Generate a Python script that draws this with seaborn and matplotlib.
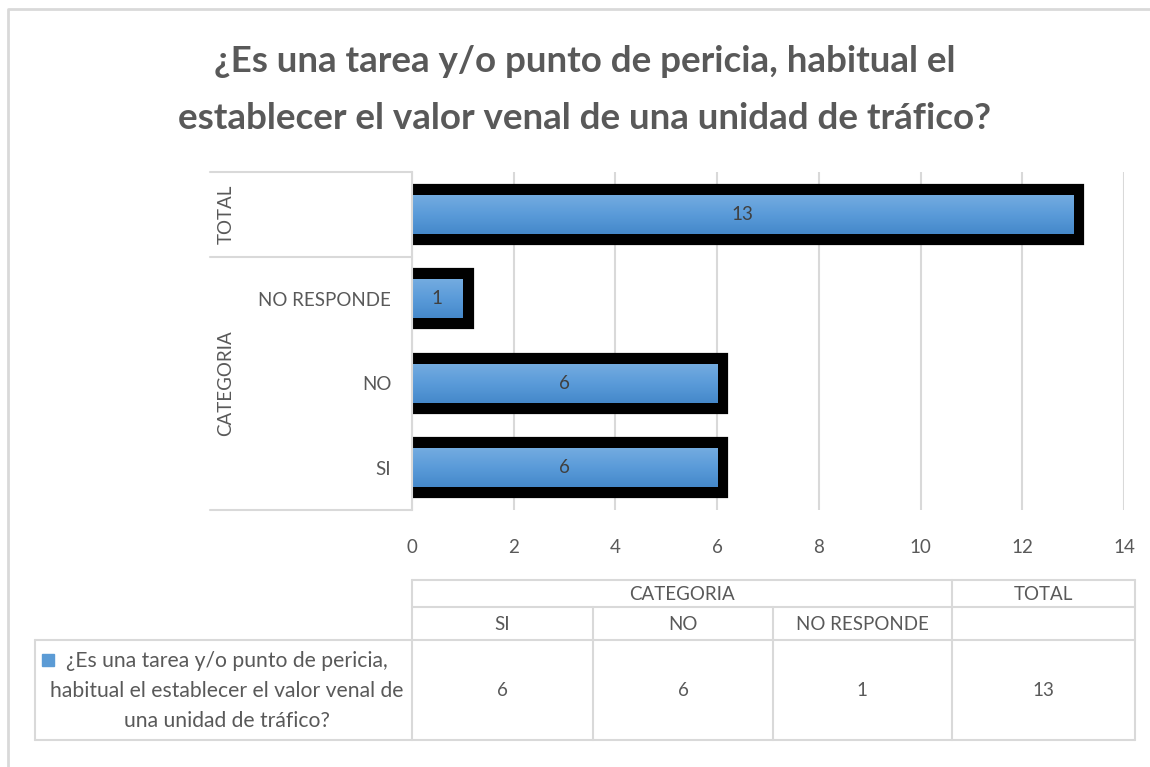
import numpy as np
import pandas as pd
import matplotlib.pyplot as plt
import matplotlib.transforms as mtransforms
from matplotlib.colors import LinearSegmentedColormap
from matplotlib.patches import Rectangle
import seaborn as sns

# chart data
title = '¿Es una tarea y/o punto de pericia, habitual el\nestablecer el valor venal de una unidad de tráfico?'
series_name = '¿Es una tarea y/o punto de pericia,\nhabitual el establecer el valor venal de\nuna unidad de tráfico?'
categories = ['SI', 'NO', 'NO RESPONDE']
cat_values = [6, 6, 1]
total_label = 'TOTAL'
total_value = 13
group_label = 'CATEGORIA'
xticks = [0, 2, 4, 6, 8, 10, 12, 14]

txt_c = '#595959'
grid_c = '#d9d9d9'
blue = '#5b9bd5'

sns.set_theme(style='white')
plt.rcParams['font.family'] = ['Lato', 'DejaVu Sans']

# rows from top to bottom, the way excel stacks them
df = pd.DataFrame({
    'row': [total_label] + categories[::-1],
    'value': [total_value] + cat_values[::-1],
})

W, H = 1150, 767
fig = plt.figure(figsize=(W / 100, H / 100), dpi=100)


def fx(px):
    return px / W


def fy(py):
    return 1 - py / H


# background layer in pixel coords: outer frame + data table
bg = fig.add_axes([0, 0, 1, 1], zorder=0)
bg.set_xlim(0, W)
bg.set_ylim(H, 0)
bg.axis('off')
lw = 1.5
bg.plot([8, 8, W], [H, 9, 9], color=grid_c, lw=2)

# table grid
hlines = [(580, 412, 1135), (607, 412, 1135), (640, 35, 1135), (740, 35, 1135)]
vlines = [(35, 640, 740), (412, 580, 740), (593, 607, 740), (773, 607, 740),
          (952, 580, 740), (1135, 580, 740)]
for y, x0, x1 in hlines:
    bg.plot([x0, x1], [y, y], color=grid_c, lw=lw)
for x, y0, y1 in vlines:
    bg.plot([x, x], [y0, y1], color=grid_c, lw=lw)

col_x = [502, 683, 862]
fs = 13.5
bg.text(682, 594, group_label, ha='center', va='center', fontsize=fs, color=txt_c)
bg.text(1043, 594, total_label, ha='center', va='center', fontsize=fs, color=txt_c)
for cx, name, v in zip(col_x, categories, cat_values):
    bg.text(cx, 625, name, ha='center', va='center', fontsize=fs, color=txt_c)
    bg.text(cx, 690, str(v), ha='center', va='center', fontsize=fs, color=txt_c)
bg.text(1043, 690, str(total_value), ha='center', va='center', fontsize=fs, color=txt_c)
bg.add_patch(Rectangle((42, 654), 12, 12, color=blue))
bg.text(227, 691, series_name, ha='center', va='center', fontsize=15.2,
        color=txt_c, linespacing=1.6)

# title
fig.text(fx(585), fy(90), title, ha='center', va='center', fontsize=26.5,
         fontweight='bold', color=txt_c, linespacing=1.9)

# main bar chart
ax = fig.add_axes([fx(412), fy(510), fx(1124) - fx(412), fy(172) - fy(510)], zorder=2)
ax.patch.set_alpha(0)
bw = 0.46
sns.barplot(data=df, y='row', x='value', orient='h', color='black', width=bw,
            edgecolor='black', linewidth=16, saturation=1, errorbar=None, ax=ax)
n_black = len(ax.patches)
sns.barplot(data=df, y='row', x='value', orient='h', color=blue, width=bw,
            linewidth=0, saturation=1, errorbar=None, ax=ax)

# vertical gradient fill like the excel bars
cmap = LinearSegmentedColormap.from_list('bar', ['#73abe0', '#5a9bd9', '#4588ca'])
grad = np.linspace(0, 1, 64).reshape(-1, 1)
for p in ax.patches[n_black:]:
    x0, y0, w, h = p.get_x(), p.get_y(), p.get_width(), p.get_height()
    im = ax.imshow(grad, cmap=cmap, aspect='auto', interpolation='bilinear',
                   extent=(x0, x0 + w, y0 + h, y0), zorder=p.get_zorder() + 0.1)
    im.set_clip_path(p)

ax.bar_label(ax.containers[1], labels=[str(v) for v in df['value']],
             label_type='center', fontsize=fs, color='#404040')

ax.set_xlim(0, 14)
ax.set_ylim(len(df) - 0.5, -0.5)
ax.set_xticks(xticks)
ax.set_xticklabels([str(t) for t in xticks])
ax.set_yticks(range(len(df)))
ax.set_yticklabels([''] + categories[::-1])
ax.set_xlabel('')
ax.set_ylabel('')
ax.grid(axis='x', color=grid_c, lw=1.5)
ax.grid(axis='y', visible=False)
ax.set_axisbelow(True)
for s in ['top', 'right', 'bottom']:
    ax.spines[s].set_visible(False)
ax.spines['left'].set_color(grid_c)
ax.spines['left'].set_linewidth(1.5)
ax.tick_params(axis='both', length=0, labelsize=fs, labelcolor=txt_c)
ax.tick_params(axis='x', pad=21)
ax.tick_params(axis='y', pad=15)

# grouped category axis
trans = mtransforms.blended_transform_factory(ax.transAxes, ax.transData)
x_sep = (210 - 412) / 712
x_grp = (226 - 412) / 712
for yb in [-0.5, 0.5, len(df) - 0.5]:
    ax.plot([x_sep, 0], [yb, yb], color=grid_c, lw=1.5, transform=trans, clip_on=False)
ax.text(x_grp, 0, total_label, rotation=90, ha='center', va='center',
        fontsize=fs, color=txt_c, transform=trans)
ax.text(x_grp, 2, group_label, rotation=90, ha='center', va='center',
        fontsize=fs, color=txt_c, transform=trans)

fig.savefig('out.png', dpi=100)
